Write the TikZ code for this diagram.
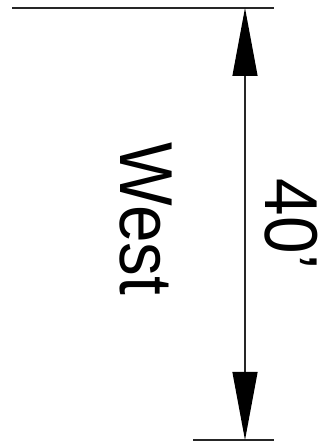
\documentclass[tikz,border=0pt]{standalone}
\usepackage{fontspec}
\setmainfont{Liberation Sans}
\usetikzlibrary{arrows.meta}
\begin{document}
\begin{tikzpicture}[x=1pt,y=1pt,
  dimline/.style={line width=1.2pt, draw=black!85},
  tip/.style={Triangle[length=68pt,width=25pt,color=black]},
  dimtext/.style={font=\fontsize{75}{80}\selectfont, inner sep=0pt, rotate=-90, anchor=base}]
\useasboundingbox (0,0) rectangle (336,447);
\coordinate (tl) at (12,439);
\coordinate (tr) at (274,439);
\coordinate (bl) at (193,7);
\coordinate (br) at (274,7);
\coordinate (top) at (245,439);
\coordinate (bot) at (245,7);
\draw[dimline] (tl) -- (tr);
\draw[dimline] (bl) -- (br);
\draw[dimline, {Triangle[length=68pt,width=25pt,color=black]}-{Triangle[length=68pt,width=25pt,color=black]}] (top) -- (bot);
\node[dimtext] (west) at (120,228) {\scalebox{0.9}[1]{West}};
\node[dimtext] (dim) at (265,223) {\scalebox{0.9}[1]{40’}};
\end{tikzpicture}
\end{document}
